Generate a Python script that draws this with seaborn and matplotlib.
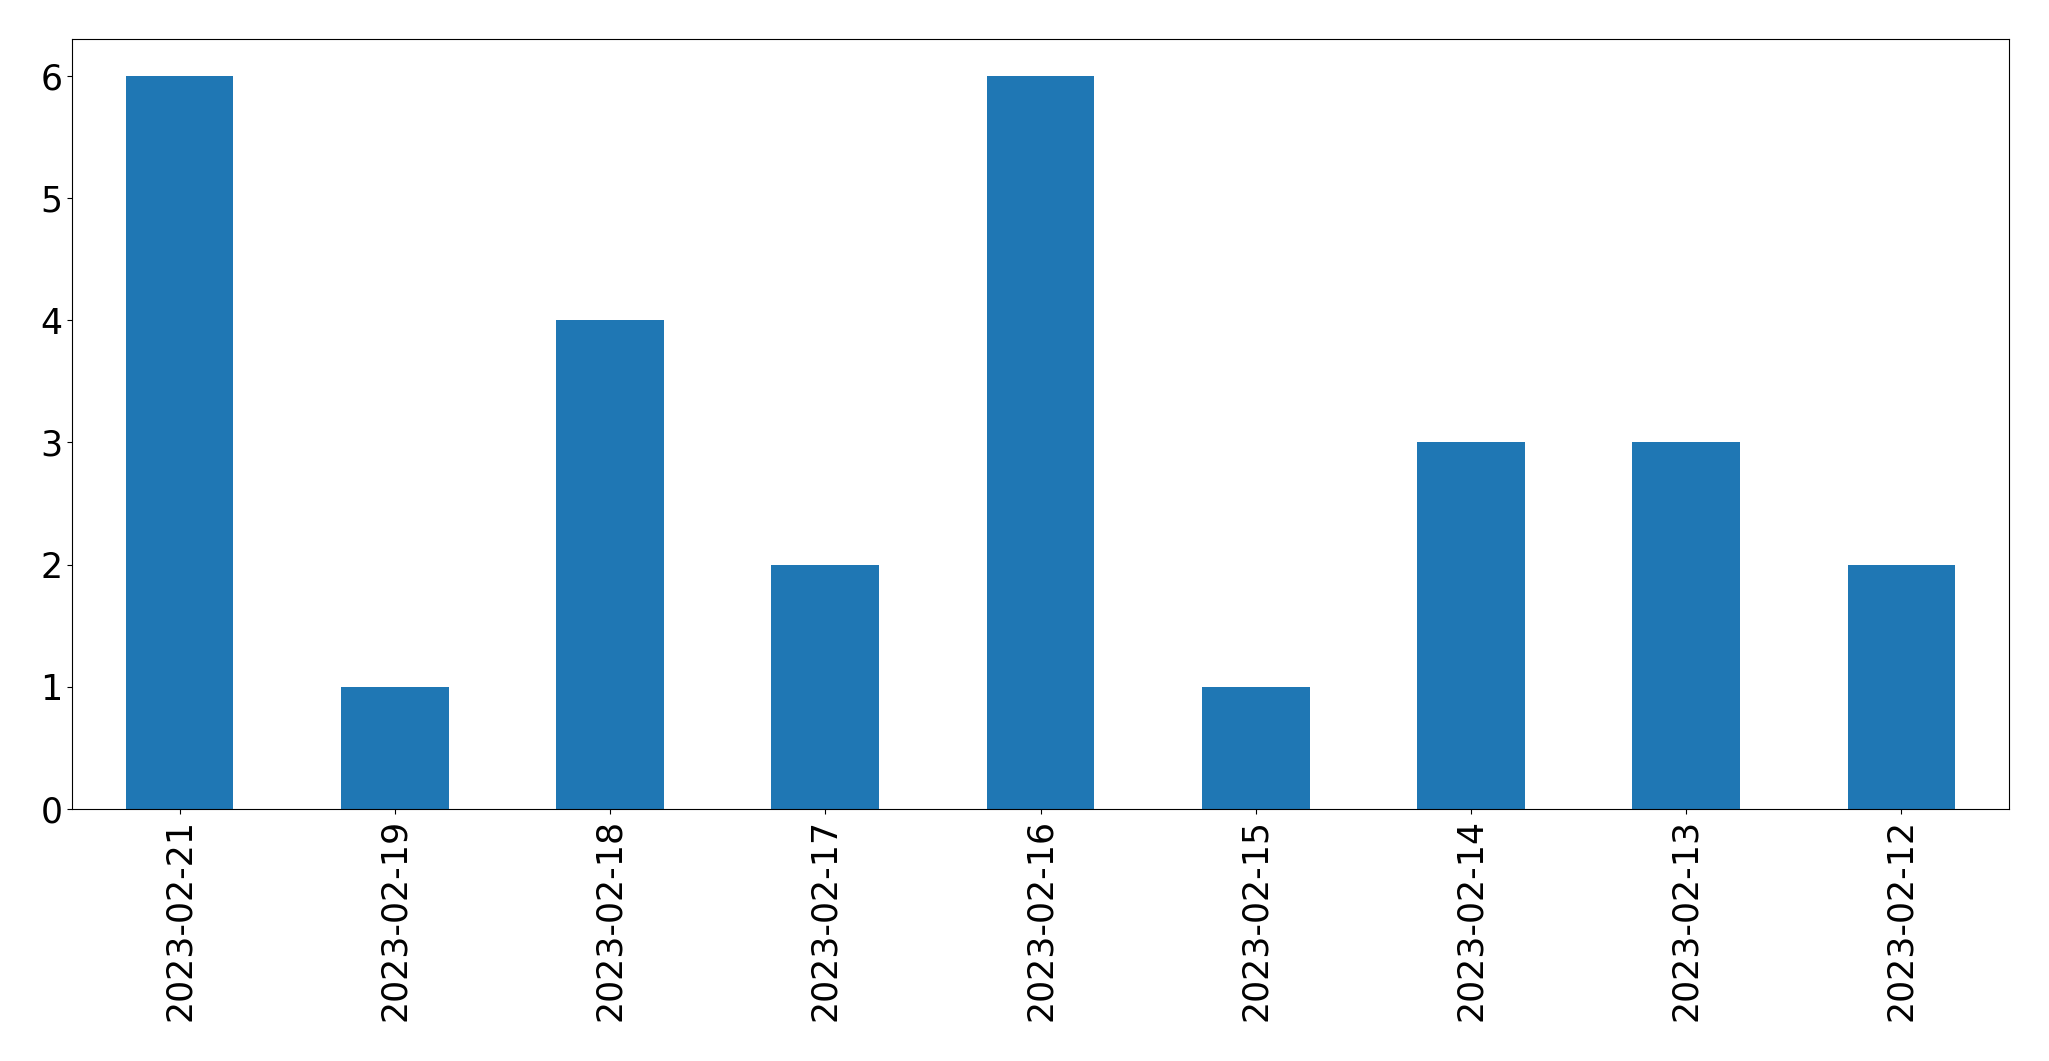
import matplotlib
matplotlib.use("Agg")
import matplotlib.pyplot as plt
import seaborn as sns
import pandas as pd

dates = ["2023-02-21", "2023-02-19", "2023-02-18", "2023-02-17", "2023-02-16",
         "2023-02-15", "2023-02-14", "2023-02-13", "2023-02-12"]
counts = [6, 1, 4, 2, 6, 1, 3, 3, 2]

df = pd.DataFrame({"date": dates, "count": counts})

fig = plt.figure(figsize=(20.49, 10.61), dpi=100)
ax = fig.add_axes([72 / 2049, 1 - 809 / 1061, (2009 - 72) / 2049, (809 - 39) / 1061])
sns.barplot(data=df, x="date", y="count", order=dates, color="#1f77b4",
            saturation=1, width=0.5, ax=ax)
ax.set_xlim(-0.5, len(dates) - 0.5)
ax.set_ylim(0, 6.3)
ax.set_xlabel("")
ax.set_ylabel("")
ax.tick_params(axis="both", labelsize=25)
ax.tick_params(axis="x", labelrotation=90)
fig.savefig("out.png", dpi=100)
